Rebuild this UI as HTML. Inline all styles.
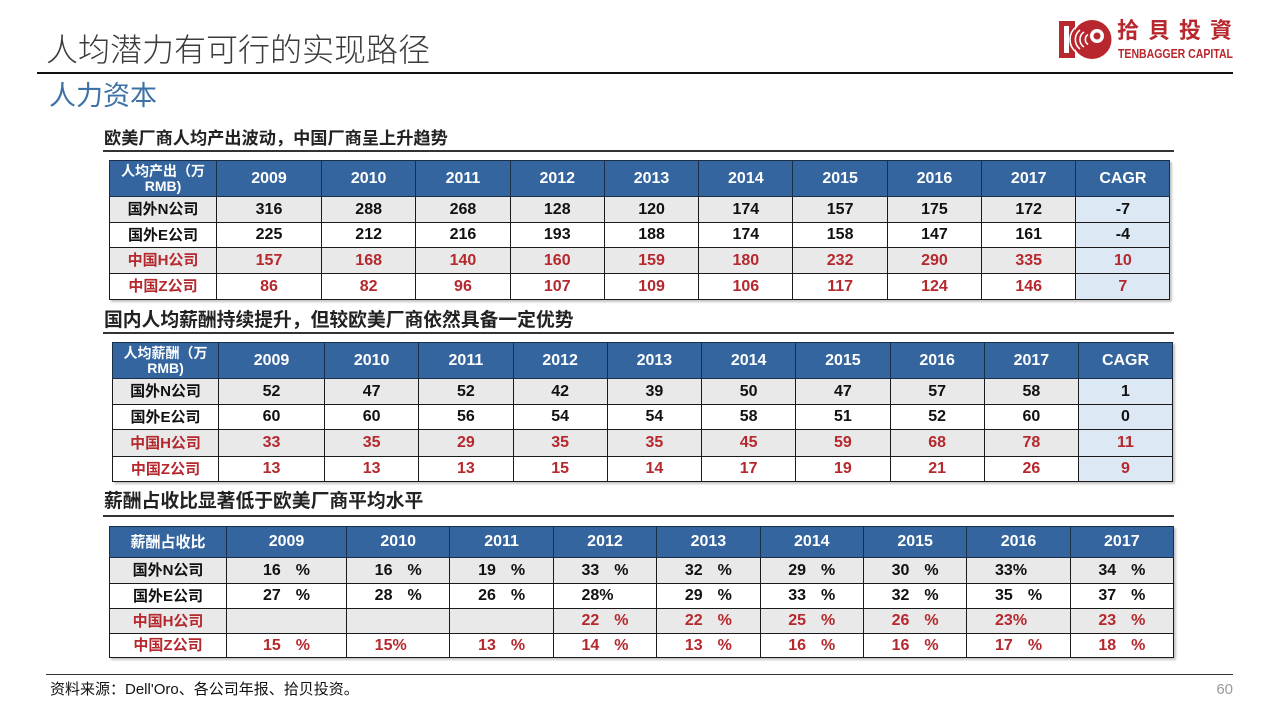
<!DOCTYPE html>
<html><head><meta charset="utf-8">
<style>
*{margin:0;padding:0;box-sizing:border-box}
body{width:1280px;height:716px;background:#fff;position:relative;overflow:hidden;font-family:"Liberation Sans","Noto Sans CJK SC",sans-serif}
.abs{position:absolute}
.title{left:46px;top:30px;font-size:32px;line-height:40px;color:#3b3b3b;font-weight:300;white-space:nowrap}
.hr1{left:37px;top:72px;width:1196px;height:2px;background:#111}
.sub{left:49px;top:80px;font-size:27px;line-height:32px;color:#3d72a6;white-space:nowrap}
.h{left:104px;font-size:18.8px;font-weight:bold;color:#222;line-height:22px;white-space:nowrap}
.hl{left:103px;width:1071px;height:2px;background:#333}
table{position:absolute;border-collapse:collapse;table-layout:fixed;box-shadow:2px 2px 2px #c4c4c4}
td{border:1.5px solid #1a1a1a;text-align:center;font-weight:bold;font-size:16px;color:#111;padding:0;white-space:nowrap;overflow:hidden;vertical-align:middle}
tr.hd td{background:#34659e;color:#fff;border-color:#1c2f4a}
tr.g td{background:#e9e9e9}
td.c{background:#dce8f4 !important}
td.l{font-size:15px;padding-bottom:2px}
tr.r td{color:#b5282d}
td.f{font-size:14px;line-height:15px}
.p{margin-left:15px}
.q{display:inline-block;width:15px}
.foot{left:50px;top:681px;font-size:15px;line-height:18px;color:#111;white-space:nowrap}
.pg{left:1200px;width:33px;top:681px;font-size:15px;line-height:18px;color:#9a9a9a;text-align:right}
.fl{left:46px;top:674px;width:1187px;height:1px;background:#333}
</style></head><body>

<div class="abs title">人均潜力有可行的实现路径</div>
<div class="abs hr1"></div>
<div class="abs sub">人力资本</div>

<svg class="abs" style="left:1056px;top:16px" width="60" height="46" viewBox="0 0 60 46">
  <rect x="3" y="5" width="16" height="37" fill="#b8272d"/>
  <rect x="8" y="10" width="5" height="27" fill="#fff"/>
  <circle cx="36" cy="23.5" r="19.5" fill="#b8272d"/>
  <path d="M24 14 A12 12 0 0 0 24 33" stroke="#fff" stroke-width="1.6" fill="none"/>
  <path d="M28 16 A9 9 0 0 0 28 31" stroke="#fff" stroke-width="1.6" fill="none"/>
  <path d="M32 18.5 A6 6 0 0 0 32 28.5" stroke="#fff" stroke-width="1.6" fill="none"/>
  <path d="M20 11 A16 16 0 0 0 20 36" stroke="#fff" stroke-width="1.6" fill="none"/>
  <circle cx="41" cy="20" r="7" fill="#fff"/>
  <circle cx="41" cy="20" r="3.5" fill="#b8272d"/>
</svg>
<div class="abs" style="left:1117px;top:16px;font-size:22px;line-height:30px;font-weight:bold;color:#b8272d;letter-spacing:9px;white-space:nowrap;font-family:'Liberation Sans','Noto Sans CJK TC',sans-serif">拾貝投資</div>
<svg class="abs" style="left:1118px;top:44px" width="116" height="18">
  <text x="0" y="14" textLength="115" lengthAdjust="spacingAndGlyphs" font-family="Liberation Sans, sans-serif" font-weight="bold" font-size="13" fill="#b8272d">TENBAGGER CAPITAL</text>
</svg>

<!-- Table 1 -->
<div class="abs h" style="top:127px;font-size:17.2px">欧美厂商人均产出波动，中国厂商呈上升趋势</div>
<div class="abs hl" style="top:150px"></div>
<table style="left:109px;top:160px;width:1061px">
<colgroup><col style="width:107px"><col style="width:105px"><col style="width:94.3px"><col style="width:94.3px"><col style="width:94.3px"><col style="width:94.3px"><col style="width:94.3px"><col style="width:94.3px"><col style="width:94.3px"><col style="width:94.3px"><col style="width:94px"></colgroup>
<tr class="hd" style="height:36px"><td class="f">人均产出（万<br>RMB)</td><td>2009</td><td>2010</td><td>2011</td><td>2012</td><td>2013</td><td>2014</td><td>2015</td><td>2016</td><td>2017</td><td>CAGR</td></tr>
<tr class="g" style="height:26px"><td class="l">国外N公司</td><td>316</td><td>288</td><td>268</td><td>128</td><td>120</td><td>174</td><td>157</td><td>175</td><td>172</td><td class="c">-7</td></tr>
<tr style="height:25px"><td class="l">国外E公司</td><td>225</td><td>212</td><td>216</td><td>193</td><td>188</td><td>174</td><td>158</td><td>147</td><td>161</td><td class="c">-4</td></tr>
<tr class="g r" style="height:26px"><td class="l">中国H公司</td><td>157</td><td>168</td><td>140</td><td>160</td><td>159</td><td>180</td><td>232</td><td>290</td><td>335</td><td class="c">10</td></tr>
<tr class="r" style="height:26px"><td class="l">中国Z公司</td><td>86</td><td>82</td><td>96</td><td>107</td><td>109</td><td>106</td><td>117</td><td>124</td><td>146</td><td class="c">7</td></tr>
</table>

<!-- Table 2 -->
<div class="abs h" style="top:309px">国内人均薪酬持续提升，但较欧美厂商依然具备一定优势</div>
<div class="abs hl" style="top:332px"></div>
<table style="left:112px;top:342px;width:1060px">
<colgroup><col style="width:106px"><col style="width:106px"><col style="width:94.25px"><col style="width:94.25px"><col style="width:94.25px"><col style="width:94.25px"><col style="width:94.25px"><col style="width:94.25px"><col style="width:94.25px"><col style="width:94.25px"><col style="width:94px"></colgroup>
<tr class="hd" style="height:36px"><td class="f">人均薪酬（万<br>RMB)</td><td>2009</td><td>2010</td><td>2011</td><td>2012</td><td>2013</td><td>2014</td><td>2015</td><td>2016</td><td>2017</td><td>CAGR</td></tr>
<tr class="g" style="height:26px"><td class="l">国外N公司</td><td>52</td><td>47</td><td>52</td><td>42</td><td>39</td><td>50</td><td>47</td><td>57</td><td>58</td><td class="c">1</td></tr>
<tr style="height:25px"><td class="l">国外E公司</td><td>60</td><td>60</td><td>56</td><td>54</td><td>54</td><td>58</td><td>51</td><td>52</td><td>60</td><td class="c">0</td></tr>
<tr class="g r" style="height:27px"><td class="l">中国H公司</td><td>33</td><td>35</td><td>29</td><td>35</td><td>35</td><td>45</td><td>59</td><td>68</td><td>78</td><td class="c">11</td></tr>
<tr class="r" style="height:25px"><td class="l">中国Z公司</td><td>13</td><td>13</td><td>13</td><td>15</td><td>14</td><td>17</td><td>19</td><td>21</td><td>26</td><td class="c">9</td></tr>
</table>

<!-- Table 3 -->
<div class="abs h" style="top:490px">薪酬占收比显著低于欧美厂商平均水平</div>
<div class="abs hl" style="top:515px"></div>
<table style="left:109px;top:526px;width:1064px">
<colgroup><col style="width:117px"><col style="width:120px"><col style="width:103.4px"><col style="width:103.4px"><col style="width:103.4px"><col style="width:103.4px"><col style="width:103.4px"><col style="width:103.4px"><col style="width:103.4px"><col style="width:103.2px"></colgroup>
<tr class="hd" style="height:31px"><td class="l">薪酬占收比</td><td>2009</td><td>2010</td><td>2011</td><td>2012</td><td>2013</td><td>2014</td><td>2015</td><td>2016</td><td>2017</td></tr>
<tr class="g" style="height:26px"><td class="l">国外N公司</td><td>16<span class="p">%</span></td><td>16<span class="p">%</span></td><td>19<span class="p">%</span></td><td>33<span class="p">%</span></td><td>32<span class="p">%</span></td><td>29<span class="p">%</span></td><td>30<span class="p">%</span></td><td>33%<span class="q"></span></td><td>34<span class="p">%</span></td></tr>
<tr style="height:25px"><td class="l">国外E公司</td><td>27<span class="p">%</span></td><td>28<span class="p">%</span></td><td>26<span class="p">%</span></td><td>28%<span class="q"></span></td><td>29<span class="p">%</span></td><td>33<span class="p">%</span></td><td>32<span class="p">%</span></td><td>35<span class="p">%</span></td><td>37<span class="p">%</span></td></tr>
<tr class="g r" style="height:25px"><td class="l">中国H公司</td><td></td><td></td><td></td><td>22<span class="p">%</span></td><td>22<span class="p">%</span></td><td>25<span class="p">%</span></td><td>26<span class="p">%</span></td><td>23%<span class="q"></span></td><td>23<span class="p">%</span></td></tr>
<tr class="r" style="height:24px"><td class="l">中国Z公司</td><td>15<span class="p">%</span></td><td>15%<span class="q"></span></td><td>13<span class="p">%</span></td><td>14<span class="p">%</span></td><td>13<span class="p">%</span></td><td>16<span class="p">%</span></td><td>16<span class="p">%</span></td><td>17<span class="p">%</span></td><td>18<span class="p">%</span></td></tr>
</table>

<div class="abs fl"></div>
<div class="abs foot">资料来源：Dell'Oro、各公司年报、拾贝投资。</div>
<div class="abs pg">60</div>

</body></html>
